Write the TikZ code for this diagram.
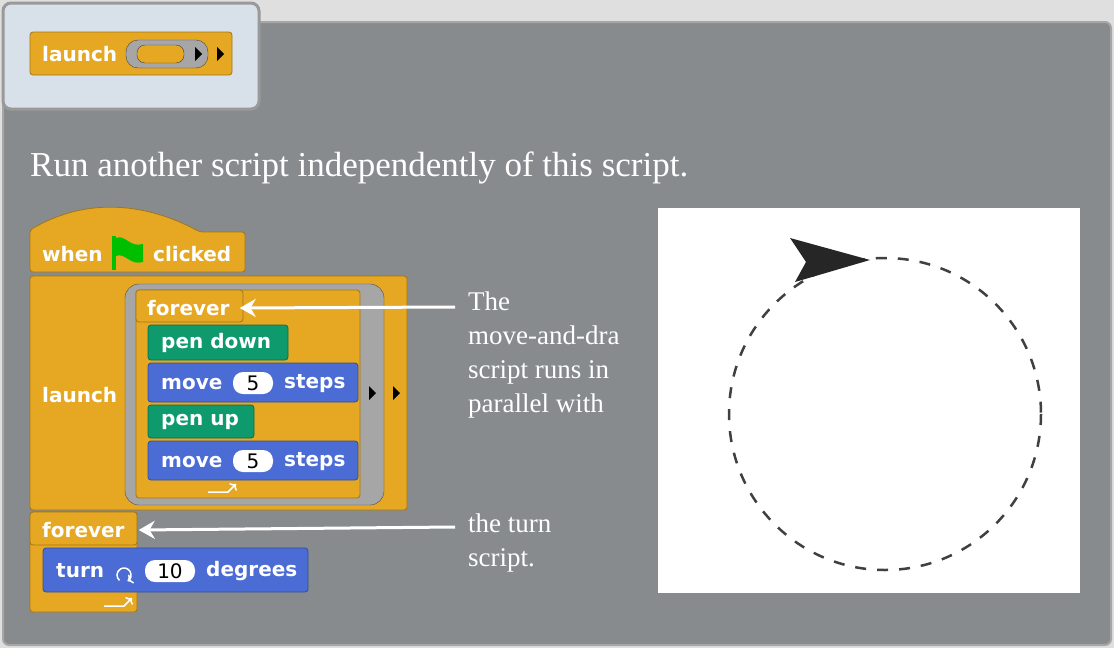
\documentclass[tikz,border=0pt]{standalone}
\usepackage{fontspec}
\setmainfont{Liberation Serif}
\setsansfont{DejaVu Sans}
\usetikzlibrary{positioning,arrows.meta}
\definecolor{panel}{HTML}{878B8E}
\definecolor{ctrl}{HTML}{E6A822}
\definecolor{motion}{HTML}{4A6CD4}
\definecolor{pen}{HTML}{0E9A6C}
\definecolor{tab}{HTML}{D8E1EA}
\tikzset{
  blk/.style={draw=#1!70!black, fill=#1, rounded corners=3pt, line width=0.8pt},
  lbl/.style={text=white, font=\sffamily\bfseries\fontsize{20}{20}\selectfont, anchor=west, inner sep=0pt},
  slot/.style={fill=white, rounded corners=10pt, inner sep=0pt, minimum width=40pt, minimum height=22pt, font=\sffamily\fontsize{20}{20}\selectfont},
  note/.style={text=white, font=\fontsize{27}{34}\selectfont, anchor=north west, inner sep=0pt, align=left},
  pointer/.style={->, white, line width=3pt, >={Stealth[length=16pt,width=18pt]}}
}
\begin{document}
\begin{tikzpicture}[x=1pt,y=-1pt]
\useasboundingbox (0,0) rectangle (1114,648);
\fill[gray!25] (0,0) rectangle (1114,648);
% panel and tab
\draw[fill=panel, draw=gray!70, line width=2pt, rounded corners=6pt] (3,22) rectangle (1111,645);
\draw[fill=tab, draw=gray!80, line width=3pt, rounded corners=8pt] (3,3) rectangle (259,109);
% palette block
\draw[blk=ctrl] (30,32) rectangle (232,75);
\draw[fill=gray!70, draw=gray!55!black, rounded corners=12pt] (126,40) rectangle (208,68);
\draw[fill=ctrl, draw=gray!50!black, rounded corners=8pt] (137,45) rectangle (184,63);
\fill (195,47) -- (202,54) -- (195,61) -- cycle;
\fill (217,47) -- (224,54) -- (217,61) -- cycle;
\node[lbl] (ltop) at (42,54) {launch};
\node[text=white, font=\fontsize{35}{35}\selectfont, anchor=base west, inner sep=0pt] (title) at (30,176) {Run another script independently of this script.};
% script
\draw[blk=ctrl] (30,272) -- (30,230) .. controls (90,195) and (150,205) .. (200,232) -- (245,232) -- (245,272) -- cycle;
\node[lbl] (when) at (42,254) {when};
\fill[green!75!black] (112,236) rectangle (116,270);
\fill[green!75!black] (116,238) .. controls (125,234) and (130,248) .. (143,244) -- (143,262) .. controls (130,266) and (125,252) .. (116,256) -- cycle;
\node[lbl] (clicked) at (153,254) {clicked};
\draw[blk=ctrl] (30,276) rectangle (407,510);
\node[lbl] (launch) at (42,395) {launch};
\draw[fill=gray!70, draw=gray!60!black, rounded corners=14pt] (125,284) rectangle (384,505);
\draw[blk=ctrl] (136,290) -- (360,290) -- (360,498) -- (136,498) -- cycle;
\draw[blk=ctrl] (136,290) rectangle (243,322);
\node[lbl] (fin) at (147,308) {forever};
\draw[white, line width=1.5pt, ->] (208,492) -- (228,492) -- (236,484);
\draw[blk=pen] (148,325) rectangle (288,360);
\node[lbl] (pd) at (161,343) {pen down};
\draw[blk=motion] (148,363) rectangle (358,402);
\node[lbl] (m1) at (161,384) {move};
\node[slot] (s1) at (253,383) {5};
\node[lbl] (st1) at (284,384) {steps};
\draw[blk=pen] (148,405) rectangle (254,438);
\node[lbl] (pu) at (161,422) {pen up};
\draw[blk=motion] (148,441) rectangle (358,480);
\node[lbl] (m2) at (161,462) {move};
\node[slot] (s2) at (253,461) {5};
\node[lbl] (st2) at (284,462) {steps};
\fill (369,386) -- (376,393) -- (369,400) -- cycle;
\fill (393,386) -- (400,393) -- (393,400) -- cycle;
% second script
\draw[blk=ctrl] (30,512) rectangle (137,612);
\draw[blk=ctrl] (30,512) rectangle (137,545);
\node[lbl] (fout) at (42,530) {forever};
\draw[white, line width=1.5pt, ->] (104,606) -- (124,606) -- (132,598);
\draw[blk=motion] (43,548) rectangle (308,592);
\node[lbl] (turn) at (56,571) {turn};
\draw[white, line width=1.5pt, <-] ([shift={(60:7)}]124,575) arc (60:-230:7);
\node[slot, minimum width=50pt] (s3) at (170,571) {10};
\node[lbl] (deg) at (206,571) {degrees};
% notes
\node[note] (n1) at (468,292) {The\\move-and-dra\\script runs in\\parallel with};
\node[note] (n2) at (468,514) {the turn\\script.};
\coordinate (a1) at (455,307);
\coordinate (a2) at (455,527);
\draw[pointer] (a1) -- ([xshift=10pt]fin.east);
\draw[pointer] (a2) -- ([xshift=14pt]fout.east);
% stage
\fill[white] (658,208) rectangle (1080,593);
\draw[gray!50!black, line width=2.5pt, dash pattern=on 11pt off 11pt] (885,414) circle (156);
\fill[gray!30!black] (870,260) -- (790,238) -- (806,262) -- (795,282) -- cycle;
\end{tikzpicture}
\end{document}
